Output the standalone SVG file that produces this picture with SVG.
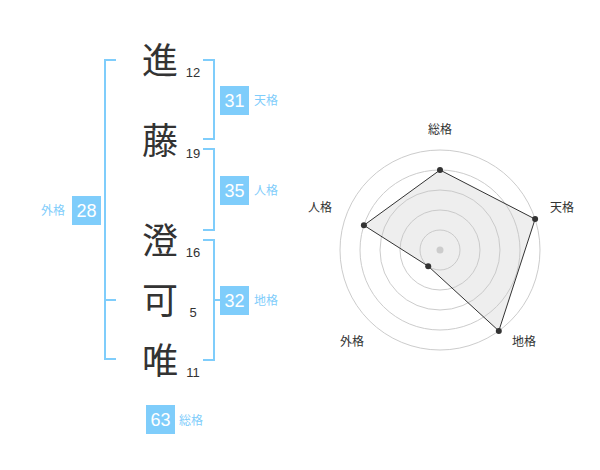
<svg xmlns="http://www.w3.org/2000/svg" width="600" height="470" viewBox="0 0 600 470">
<style>
.k{font-family:"Noto Sans CJK JP","Noto Sans CJK SC",sans-serif;font-size:36px;fill:#333;text-anchor:middle}
.n{font-family:"Liberation Sans",Arial,sans-serif;font-size:13px;fill:#333;text-anchor:middle}
.br{fill:none;stroke:#7fcdfb;stroke-width:2}
.box{fill:#7fcdfb}
.bt{font-family:"Liberation Sans",Arial,sans-serif;font-size:18px;fill:#fff;text-anchor:middle}
.lb{font-family:"Noto Sans CJK JP",sans-serif;font-size:12px;fill:#7fcdfb}
.rl{font-family:"Noto Sans CJK JP",sans-serif;font-size:12px;fill:#333;text-anchor:middle}
.ring{fill:none;stroke:#ccc;stroke-width:1}
</style>
<rect width="600" height="470" fill="#fff"/>
<g id="chars">
<text class="k" x="160" y="74">進</text><text class="n" x="193" y="77">12</text>
<text class="k" x="160" y="154">藤</text><text class="n" x="193" y="158">19</text>
<text class="k" x="160" y="254">澄</text><text class="n" x="193" y="257">16</text>
<text class="k" x="160" y="314">可</text><text class="n" x="193" y="317">5</text>
<text class="k" x="160" y="374">唯</text><text class="n" x="193" y="377">11</text>
</g>
<g id="connectors">
<path class="br" d="M116 60H105V359H116M105 300H116"/>
<path class="br" d="M203 60H214V139H203"/>
<path class="br" d="M203 149H214V230H203"/>
<path class="br" d="M203 240H214V360H203M214 300H220"/>
</g>
<g id="tenkaku"><rect class="box" x="220" y="86" width="29" height="29"/><text class="bt" x="234.5" y="107">31</text><text class="lb" x="254" y="105">天格</text></g>
<g id="jinkaku"><rect class="box" x="220" y="176" width="29" height="29"/><text class="bt" x="234.5" y="197">35</text><text class="lb" x="254" y="195">人格</text></g>
<g id="gaikaku"><rect class="box" x="72" y="196" width="29" height="29"/><text class="bt" x="86.5" y="217">28</text><text class="lb" x="41" y="215">外格</text></g>
<g id="chikaku"><rect class="box" x="220" y="286" width="29" height="29"/><text class="bt" x="234.5" y="307">32</text><text class="lb" x="254" y="305">地格</text></g>
<g id="soukaku"><rect class="box" x="146" y="405" width="29" height="29"/><text class="bt" x="160.5" y="426">63</text><text class="lb" x="179" y="425">総格</text></g>
<g id="radar">
<circle class="ring" cx="440" cy="250" r="20"/>
<circle class="ring" cx="440" cy="250" r="40"/>
<circle class="ring" cx="440" cy="250" r="60"/>
<circle class="ring" cx="440" cy="250" r="80"/>
<circle class="ring" cx="440" cy="250" r="100"/>
<polygon points="440,170 535.1,219.1 498.8,330.9 428.2,266.2 363.9,225.3" fill="rgba(200,200,200,0.3)" stroke="#333" stroke-width="1"/>
<circle cx="440" cy="250" r="3.5" fill="#ccc"/>
<g fill="#333">
<circle cx="440" cy="170" r="3"/><circle cx="535.1" cy="219.1" r="3"/><circle cx="498.8" cy="330.9" r="3"/><circle cx="428.2" cy="266.2" r="3"/><circle cx="363.9" cy="225.3" r="3"/>
</g>
<text class="rl" x="440" y="134">総格</text>
<text class="rl" x="562" y="212">天格</text>
<text class="rl" x="524" y="346">地格</text>
<text class="rl" x="352" y="346">外格</text>
<text class="rl" x="320" y="212">人格</text>
</g>
</svg>
